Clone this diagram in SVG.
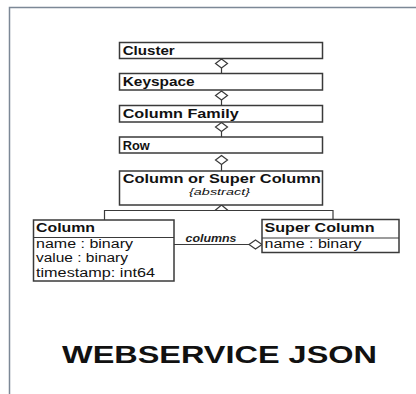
<svg xmlns="http://www.w3.org/2000/svg" width="416" height="394" viewBox="0 0 416 394">
<style>
.box{fill:#ffffff;stroke:#3a3a3a;stroke-width:1.5}
.ln{fill:none;stroke:#3a3a3a;stroke-width:1.2}
.dia{fill:#ffffff;stroke:#3a3a3a;stroke-width:1.2}
.t{font-family:"Liberation Sans",Arial,sans-serif;font-weight:bold;font-size:13px;fill:#111}
.a{font-family:"Liberation Sans",Arial,sans-serif;font-size:12px;fill:#111}
.i{font-family:"Liberation Sans",Arial,sans-serif;font-style:italic;font-size:9.5px;fill:#111}
.lbl{font-family:"Liberation Sans",Arial,sans-serif;font-style:italic;font-weight:bold;font-size:10px;fill:#222}
</style>
<rect width="416" height="394" fill="#ffffff"/>
<path d="M9.5 394 V7.5 H416" fill="none" stroke="#7c8896" stroke-width="1.5"/>
<g id="connectors">
<line class="ln" x1="221.5" y1="68" x2="221.5" y2="73.5"/>
<polygon class="dia" points="221.5,59 227.5,63.5 221.5,68 215.5,63.5"/>
<line class="ln" x1="221.5" y1="100" x2="221.5" y2="105.5"/>
<polygon class="dia" points="221.5,91 227.5,95.5 221.5,100 215.5,95.5"/>
<line class="ln" x1="221.5" y1="131.5" x2="221.5" y2="137"/>
<polygon class="dia" points="221.5,122.5 227.5,127 221.5,131.5 215.5,127"/>
<line class="ln" x1="221.5" y1="164.5" x2="221.5" y2="171"/>
<polygon class="dia" points="221.5,155.5 227.5,160 221.5,164.5 215.5,160"/>
<path class="ln" d="M104.5 220 V210.5 H333 V219.5"/>
<polygon class="dia" points="221.5,205 228,210.5 215,210.5"/>
<line class="ln" x1="174" y1="244.5" x2="249" y2="244.5"/>
<polygon class="dia" points="249,244.5 255.5,240 262,244.5 255.5,249"/>
<text class="lbl" x="185.5" y="241.5" textLength="51" lengthAdjust="spacingAndGlyphs">columns</text>
</g>
<g id="cluster">
<rect class="box" x="119.5" y="42.5" width="203" height="16"/>
<text class="t" x="122.7" y="55.2" textLength="52" lengthAdjust="spacingAndGlyphs">Cluster</text>
</g>
<g id="keyspace">
<rect class="box" x="119.5" y="73.5" width="203" height="16.5"/>
<text class="t" x="122.7" y="86.2" textLength="72" lengthAdjust="spacingAndGlyphs">Keyspace</text>
</g>
<g id="columnfamily">
<rect class="box" x="119.5" y="105.5" width="203" height="16.5"/>
<text class="t" x="122.7" y="118.2" textLength="116" lengthAdjust="spacingAndGlyphs">Column Family</text>
</g>
<g id="row">
<rect class="box" x="119.5" y="137" width="203" height="16"/>
<text class="t" x="122.7" y="149.7" textLength="27" lengthAdjust="spacingAndGlyphs">Row</text>
</g>
<g id="columnorsupercolumn">
<rect class="box" x="119.5" y="171" width="203" height="34"/>
<text class="t" x="122.7" y="182.7" textLength="198" lengthAdjust="spacingAndGlyphs">Column or Super Column</text>
<text class="i" x="189" y="194.5" textLength="61" lengthAdjust="spacingAndGlyphs">{abstract}</text>
</g>
<g id="column">
<rect class="box" x="33.5" y="220" width="140.5" height="61"/>
<line class="ln" x1="33.5" y1="237.5" x2="174" y2="237.5" stroke-width="1.5"/>
<text class="t" x="36" y="231.5" textLength="59" lengthAdjust="spacingAndGlyphs">Column</text>
<text class="a" x="36" y="247.5" textLength="97" lengthAdjust="spacingAndGlyphs">name : binary</text>
<text class="a" x="36" y="262" textLength="92" lengthAdjust="spacingAndGlyphs">value : binary</text>
<text class="a" x="36" y="276.5" textLength="119" lengthAdjust="spacingAndGlyphs">timestamp: int64</text>
</g>
<g id="supercolumn">
<rect class="box" x="262" y="219.5" width="137" height="33"/>
<line class="ln" x1="262" y1="238" x2="399" y2="238" stroke-width="1.5"/>
<text class="t" x="264.5" y="231.5" textLength="110" lengthAdjust="spacingAndGlyphs">Super Column</text>
<text class="a" x="264.5" y="247.5" textLength="97" lengthAdjust="spacingAndGlyphs">name : binary</text>
</g>
<text x="62" y="363" font-family="'Liberation Sans',Arial,sans-serif" font-weight="bold" font-size="23" fill="#111" textLength="315" lengthAdjust="spacingAndGlyphs">WEBSERVICE JSON</text>
</svg>
